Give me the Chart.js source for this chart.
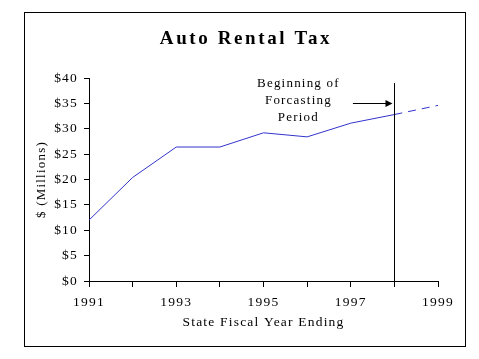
<!DOCTYPE html>
<html lang="en">

<head>
    <meta charset="UTF-8">
    <title>Auto Rental Tax</title>
    <script src="https://cdn.jsdelivr.net/npm/chart.js"></script>
    <style>
        html, body {
            margin: 0;
            padding: 0;
            background: #ffffff;
        }

        #wrap {
            width: 479px;
            height: 359px;
        }
    </style>
</head>

<body>
    <div id="wrap"><canvas id="taxChart" width="479" height="359"></canvas></div>
    <script>
        // values, $ millions
        const years = [1991, 1992, 1993, 1994, 1995, 1996, 1997, 1998];
        const actualValues = [12.0, 20.4, 26.4, 26.4, 29.2, 28.4, 31.1, 32.8];
        const forecastYears = [1998, 1999];
        const forecastValues = [32.8, 34.6];
        const yTicks = [0, 5, 10, 15, 20, 25, 30, 35, 40];
        const xLabelYears = [1991, 1993, 1995, 1997, 1999];

        const forecastStart = 1998;
        const markerTop = 39;            // top of the vertical marker, in $ millions
        const arrowLevel = 35;           // height of the arrow
        const arrowFrom = 1997.05;
        const noteLines = ["Beginning of", "Forcasting", "Period"];
        const noteYear = 1995.8;

        const serif = "'Liberation Serif', 'Times New Roman', serif";

        const extras = {
            id: "extras",
            beforeDraw(chart) {
                chart.ctx.letterSpacing = "1.2px";
            },
            afterDraw(chart) {
                const ctx = chart.ctx;
                const x = chart.scales.x;
                const y = chart.scales.y;
                ctx.save();

                // outer frame
                ctx.strokeStyle = "#000";
                ctx.lineWidth = 1;
                ctx.strokeRect(24.5, 12.5, 441, 334);

                // title
                ctx.letterSpacing = "2.6px";
                ctx.fillStyle = "#000";
                ctx.font = "bold 19px " + serif;
                ctx.textAlign = "center";
                ctx.textBaseline = "middle";
                ctx.fillText("Auto Rental Tax", 246, 39);

                // forecast marker
                const mx = Math.round(x.getPixelForValue(forecastStart)) + 0.5;
                ctx.beginPath();
                ctx.moveTo(mx, y.getPixelForValue(markerTop));
                ctx.lineTo(mx, y.getPixelForValue(0));
                ctx.stroke();

                // arrow
                const ay = Math.round(y.getPixelForValue(arrowLevel)) + 0.5;
                const ax0 = x.getPixelForValue(arrowFrom);
                const ax1 = mx - 2;
                ctx.beginPath();
                ctx.moveTo(ax0, ay);
                ctx.lineTo(ax1 - 6, ay);
                ctx.stroke();
                ctx.beginPath();
                ctx.moveTo(ax1, ay);
                ctx.lineTo(ax1 - 7, ay - 3.5);
                ctx.lineTo(ax1 - 7, ay + 3.5);
                ctx.closePath();
                ctx.fill();

                // note
                ctx.letterSpacing = "1.2px";
                ctx.font = "13px " + serif;
                const nx = x.getPixelForValue(noteYear);
                noteLines.forEach((t, i) => {
                    ctx.fillText(t, nx, y.getPixelForValue(markerTop) + 1 + i * 17);
                });
                ctx.restore();
            }
        };

        const ctx = document.getElementById("taxChart").getContext("2d");
        ctx.letterSpacing = "1.2px";

        const taxChart = new Chart(ctx, {
            type: "line",
            data: {
                datasets: [{
                    label: "Actual",
                    data: years.map((yr, i) => ({ x: yr, y: actualValues[i] })),
                    borderColor: "#3333cc",
                    borderWidth: 1,
                    pointRadius: 0,
                    tension: 0
                }, {
                    label: "Forecast",
                    data: forecastYears.map((yr, i) => ({ x: yr, y: forecastValues[i] })),
                    borderColor: "#3333cc",
                    borderWidth: 1,
                    borderDash: [8, 6],
                    pointRadius: 0,
                    tension: 0
                }]
            },
            options: {
                responsive: false,
                animation: false,
                layout: {
                    padding: { top: 78, left: 30, right: 41, bottom: 20 }
                },
                plugins: {
                    legend: { display: false },
                    tooltip: { enabled: false },
                    title: { display: false }
                },
                scales: {
                    x: {
                        type: "linear",
                        min: 1991,
                        max: 1999,
                        afterBuildTicks(scale) {
                            scale.ticks = years.concat([1999]).map(v => ({ value: v }));
                        },
                        afterFit(scale) {
                            scale.height = 58;
                        },
                        ticks: {
                            color: "#000",
                            font: { family: serif, size: 13.5 },
                            padding: 7,
                            maxRotation: 0,
                            autoSkip: false,
                            callback: (v) => xLabelYears.includes(v) ? String(v) : ""
                        },
                        grid: {
                            drawOnChartArea: false,
                            color: "#000",
                            tickLength: 6
                        },
                        border: { color: "#000", width: 1 },
                        title: {
                            display: true,
                            text: "State Fiscal Year Ending",
                            color: "#000",
                            font: { family: serif, size: 13.5 },
                            padding: { top: 0, bottom: 8 }
                        }
                    },
                    y: {
                        min: 0,
                        max: 40,
                        afterBuildTicks(scale) {
                            scale.ticks = yTicks.map(v => ({ value: v }));
                        },
                        afterFit(scale) {
                            scale.width = 59;
                        },
                        ticks: {
                            color: "#000",
                            font: { family: serif, size: 13.5 },
                            padding: 6,
                            callback: (v) => "$" + v
                        },
                        grid: {
                            drawOnChartArea: false,
                            color: "#000",
                            tickLength: 5
                        },
                        border: { color: "#000", width: 1 },
                        title: {
                            display: true,
                            text: "$ (Millions)",
                            color: "#000",
                            font: { family: serif, size: 13 },
                            padding: { top: 4, bottom: 0 }
                        }
                    }
                }
            },
            plugins: [extras]
        });
    </script>
</body>

</html>
